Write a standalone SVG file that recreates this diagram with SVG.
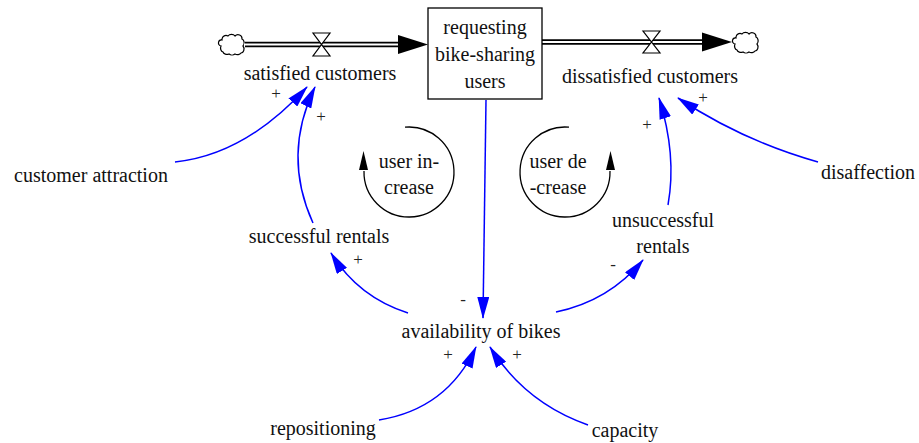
<svg xmlns="http://www.w3.org/2000/svg" width="919" height="443" viewBox="0 0 919 443" font-family="'Liberation Serif', 'DejaVu Serif', serif">
  <style>
    text { font-family: "Liberation Serif", "DejaVu Serif", serif; font-size: 20px; fill: #111; text-anchor: middle; }
    .sign { font-size: 17px; fill: #222; }
    .link { fill: none; stroke: #0000ff; stroke-width: 1.5; marker-end: url(#blueHead); }
    .loop { fill: none; stroke: #000; stroke-width: 1.3; }
    .pipeOuter { stroke: #000; stroke-width: 5.5; fill: none; }
    .pipeInner { stroke: #fff; stroke-width: 2.2; fill: none; }
    .valve { fill: #fff; stroke: #000; stroke-width: 1.2; }
    .cloud { fill: #fff; stroke: #000; stroke-width: 1.2; }
  </style>
  <defs>
    <marker id="blueHead" viewBox="0 0 22 12" markerWidth="22" markerHeight="12" refX="21" refY="6" orient="auto" markerUnits="userSpaceOnUse">
      <path d="M0,0 L22,6 L0,12 Z" fill="#0000ff"/>
    </marker>
    <path id="cloudShape" class="cloud" d="M4,5 a4,4 0 0 1 6,-3 a4,3 0 0 1 7,0 a4,4 0 0 1 7,3 a3,4 0 0 1 1,7 a3,4 0 0 1 -2,7 a4,3 0 0 1 -6,1 a4,3 0 0 1 -6,0 a4,3 0 0 1 -6,-2 a3,4 0 0 1 -2,-6 a3,3 0 0 1 1,-6 z"/>
  </defs>

  <rect width="919" height="443" fill="#fff"/>

  <!-- inflow: source cloud -> stock -->
  <g id="flow-satisfied">
    <use href="#cloudShape" x="218" y="34"/>
    <line class="pipeOuter" x1="245" y1="44.5" x2="400" y2="44.5"/>
    <line class="pipeInner" x1="244" y1="44.5" x2="401" y2="44.5"/>
    <polygon points="398,35 428,44.5 398,54" fill="#000"/>
    <path class="valve" d="M313,33 H330 L313,56 H330 Z"/>
    <text x="320" y="80">satisfied customers</text>
  </g>

  <!-- outflow: stock -> sink cloud -->
  <g id="flow-dissatisfied">
    <line class="pipeOuter" x1="542" y1="42" x2="704" y2="42"/>
    <line class="pipeInner" x1="541" y1="42" x2="705" y2="42"/>
    <polygon points="702,32.5 732,42 702,51.5" fill="#000"/>
    <path class="valve" d="M643,31 H660 L643,53 H660 Z"/>
    <use href="#cloudShape" x="732" y="32"/>
    <text x="650" y="83">dissatisfied customers</text>
  </g>

  <!-- stock -->
  <g id="requesting-users">
    <rect x="428" y="8" width="114" height="91" fill="#fff" stroke="#000" stroke-width="1.3"/>
    <text x="485" y="34">requesting</text>
    <text x="485" y="61">bike-sharing</text>
    <text x="485" y="88">users</text>
  </g>

  <g id="customer-attraction"><text x="91" y="182">customer attraction</text></g>
  <g id="successful-rentals"><text x="319" y="243">successful rentals</text></g>
  <g id="unsuccessful-rentals">
    <text x="663" y="227">unsuccessful</text>
    <text x="663" y="253">rentals</text>
  </g>
  <g id="disaffection"><text x="868" y="179">disaffection</text></g>
  <g id="availability"><text x="481" y="338">availability of bikes</text></g>
  <g id="repositioning"><text x="323" y="435">repositioning</text></g>
  <g id="capacity"><text x="625" y="437">capacity</text></g>

  <!-- feedback loop markers -->
  <g id="loop-increase">
    <path class="loop" d="M405,127.2 A45,45 0 1 1 364,171"/>
    <polygon points="363.5,151 368,170 359,170" fill="#000"/>
    <text x="409" y="168">user in-</text>
    <text x="409" y="194">crease</text>
  </g>
  <g id="loop-decrease">
    <path class="loop" d="M569,127.2 A45,45 0 1 0 610,171"/>
    <polygon points="610.5,151 615,170 606,170" fill="#000"/>
    <text x="558" y="168">user de</text>
    <text x="558" y="194">-crease</text>
  </g>

  <!-- causal links -->
  <g id="connectors">
    <path class="link" d="M175,162 Q245,155 307,87"/>
    <path class="link" d="M313,223 Q282,155 315,87"/>
    <path class="link" d="M486,100 L483,318"/>
    <path class="link" d="M408,313 Q358,297 331,253"/>
    <path class="link" d="M556,312 Q609,301 643,260"/>
    <path class="link" d="M668,205 Q677,155 659,98"/>
    <path class="link" d="M818,162 Q743,141 678,98"/>
    <path class="link" d="M379,420 Q447,409 476,347"/>
    <path class="link" d="M588,425 Q525,403 490,347"/>

    <text class="sign" x="276" y="99">+</text>
    <text class="sign" x="321" y="122">+</text>
    <text class="sign" x="703" y="103">+</text>
    <text class="sign" x="647" y="130">+</text>
    <text class="sign" x="463" y="305">-</text>
    <text class="sign" x="358" y="265">+</text>
    <text class="sign" x="613" y="270">-</text>
    <text class="sign" x="448" y="360">+</text>
    <text class="sign" x="517" y="360">+</text>
  </g>
</svg>
